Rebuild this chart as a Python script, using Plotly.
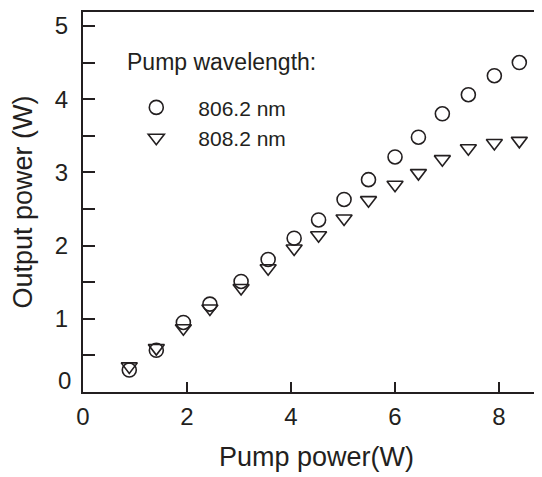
import plotly.graph_objects as go

pump_power = [0.89, 1.41, 1.93, 2.44, 3.04, 3.56, 4.06, 4.53, 5.02, 5.49, 6.00, 6.45, 6.91, 7.41, 7.91, 8.39]
out_806 = [0.30, 0.57, 0.95, 1.20, 1.51, 1.81, 2.10, 2.35, 2.63, 2.90, 3.21, 3.48, 3.80, 4.06, 4.32, 4.50]
out_808 = [0.35, 0.60, 0.87, 1.14, 1.42, 1.69, 1.96, 2.14, 2.37, 2.62, 2.83, 2.99, 3.18, 3.33, 3.40, 3.43]

series_names = ["806.2 nm", "808.2 nm"]
x_ticks = [0, 2, 4, 6, 8]
y_ticks = [0, 1, 2, 3, 4, 5]

INK = "#231f20"
FONT = "Liberation Sans, Arial, sans-serif"

fig = go.Figure()
fig.add_trace(go.Scatter(
    x=pump_power, y=out_806, mode="markers", name=series_names[0],
    marker=dict(symbol="circle-open", size=14, color=INK, line=dict(width=1.6, color=INK)),
))
fig.add_trace(go.Scatter(
    x=pump_power, y=out_808, mode="markers", name=series_names[1],
    marker=dict(symbol="triangle-down-open", size=14, color=INK, line=dict(width=1.6, color=INK)),
))

fig.update_layout(
    width=542, height=477,
    margin=dict(l=75, r=0, t=4, b=93),
    paper_bgcolor="white", plot_bgcolor="white",
    font=dict(family=FONT, size=24, color=INK),
    showlegend=True,
    legend=dict(
        x=0.067, y=0.802, xanchor="left", yanchor="top",
        bgcolor="rgba(0,0,0,0)", font=dict(size=21, color=INK),
        itemwidth=74, tracegroupgap=0,
    ),
    annotations=[
        dict(text="Pump wavelength:", xref="paper", yref="paper", x=0.091, y=0.868,
             xanchor="left", yanchor="middle", showarrow=False, font=dict(size=23, color=INK)),
        dict(text=str(y_ticks[0]), xref="paper", yref="y", x=0, y=y_ticks[0],
             xanchor="right", yanchor="middle", xshift=-10, yshift=12, showarrow=False,
             font=dict(size=24, color=INK)),
    ],
)

fig.update_xaxes(
    range=[0, 8.98], tickvals=x_ticks, ticks="inside", ticklen=10, tickwidth=2, tickcolor=INK,
    showline=True, linewidth=2, linecolor=INK, mirror=True, showgrid=False, zeroline=False,
    ticklabelstandoff=2, automargin=False, tickfont=dict(size=24),
    title=dict(text="Pump power(W)", font=dict(size=27, color=INK), standoff=18),
)
fig.update_yaxes(
    range=[0, 5.19], tickvals=[v / 2 for v in range(0, 11)],
    ticktext=["" if v == 0 else (str(v // 2) if v % 2 == 0 else "") for v in range(0, 11)],
    ticks="inside", ticklen=12, tickwidth=2, tickcolor=INK,
    showline=True, linewidth=2, linecolor=INK, showgrid=False, zeroline=False,
    ticklabelstandoff=8, automargin=False, tickfont=dict(size=24),
    title=dict(text="Output power (W)", font=dict(size=27, color=INK), standoff=15),
)

fig.write_html("out.html")
